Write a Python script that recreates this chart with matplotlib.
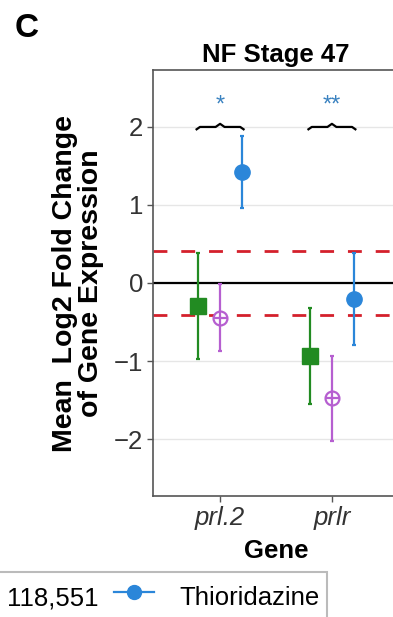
import numpy as np
import matplotlib.pyplot as plt
from matplotlib.lines import Line2D

plt.rcParams['font.family'] = ['Liberation Sans', 'DejaVu Sans']

genes = ['prl.2', 'prlr']
groups = ['Group A', 'Group B', 'Thioridazine']
colors = ['#228b22', '#b65fd0', '#2b86d9']
offsets = [-0.2, 0.0, 0.2]

means = {'Group A': [-0.30, -0.93],
         'Group B': [-0.45, -1.47],
         'Thioridazine': [1.42, -0.20]}
lower = {'Group A': [-0.97, -1.55],
         'Group B': [-0.87, -2.03],
         'Thioridazine': [0.96, -0.79]}
upper = {'Group A': [0.38, -0.32],
         'Group B': [-0.01, -0.93],
         'Thioridazine': [1.88, 0.38]}

threshold = 0.41
sig_y = 2.0
sig_labels = ['*', '**']

fig = plt.figure(figsize=(3.93, 6.17), dpi=100)
ax = fig.add_axes([153 / 393, 1 - 496 / 617, 246 / 393, 426 / 617])

x = np.arange(1, len(genes) + 1)

ax.axhline(0, color='black', lw=1.6, zorder=2)
ax.axhline(threshold, color='#d4202c', lw=2, dashes=(5, 5), zorder=2)
ax.axhline(-threshold, color='#d4202c', lw=2, dashes=(5, 5), zorder=2)

for g, c, off in zip(groups, colors, offsets):
    m = np.array(means[g])
    lo = np.array(lower[g])
    hi = np.array(upper[g])
    ax.errorbar(x + off, m, yerr=[m - lo, hi - m], fmt='none', ecolor=c,
                elinewidth=1.6, capsize=1.2, capthick=1.6, zorder=3)
    if g == 'Group A':
        ax.plot(x + off, m, 's', color=c, ms=11, zorder=4)
    elif g == 'Group B':
        ax.plot(x + off, m, 'o', mfc='white', mec=c, mew=1.6, ms=10, zorder=4)
        ax.plot(x + off, m, '+', color=c, mew=1.6, ms=10, zorder=5)
    else:
        ax.plot(x + off, m, 'o', color=c, ms=11, zorder=4)

# significance braces
for xi, lab in zip(x, sig_labels):
    x1, x2 = xi - 0.21, xi + 0.21
    bx = [x1, x1 + 0.03, xi - 0.04, xi, xi + 0.04, x2 - 0.03, x2]
    by = [sig_y - 0.03, sig_y, sig_y, sig_y + 0.04, sig_y, sig_y, sig_y - 0.03]
    ax.plot(bx, by, color='black', lw=1.6, zorder=3)
    ax.text(xi, sig_y + 0.13, lab, color='#3a82c0', ha='center', va='bottom',
            fontsize=17)

ax.set_xlim(0.4, 2.6)
ax.set_ylim(-2.73, 2.73)
ax.set_xticks(x)
ax.set_xticklabels(genes, style='italic', fontsize=18.5)
ax.set_yticks([-2, -1, 0, 1, 2])
ax.set_yticklabels(['\u22122', '\u22121', '0', '1', '2'], fontsize=18.5)
ax.grid(axis='y', color='#e6e6e6', lw=1)
ax.set_axisbelow(True)
for s in ['top', 'left', 'bottom']:
    ax.spines[s].set_color('#555555')
    ax.spines[s].set_linewidth(1.2)
ax.spines['right'].set_visible(False)
ax.tick_params(colors='#555555', labelcolor='#333333', length=4, width=1,
               pad=3)

ax.set_title('NF Stage 47', fontsize=18.5, fontweight='bold', pad=6)
ax.set_xlabel('Gene', fontsize=18.5, fontweight='bold', labelpad=7)
ax.set_ylabel('Mean  Log2 Fold Change\nof Gene Expression', fontsize=20.5,
              fontweight='bold', labelpad=7, linespacing=1.0)

fig.text(0.038, 0.953, 'C', fontsize=24, fontweight='bold', va='center')

handles = [Line2D([], [], color='none'),
           Line2D([], [], color=colors[2], marker='o', ms=10, lw=1.6)]
leg = fig.legend(handles, ['118,551', 'Thioridazine'], ncol=2,
                 loc='upper right', bbox_to_anchor=(327 / 393, 1 - 572 / 617),
                 fontsize=18.5, frameon=True, fancybox=False,
                 edgecolor='#bbbbbb', handlelength=1.56, handletextpad=0.97,
                 handleheight=1.65, columnspacing=0.62, borderpad=0.3,
                 borderaxespad=0, framealpha=1)
leg.get_frame().set_linewidth(1.5)

fig.savefig('out.png', dpi=100)
